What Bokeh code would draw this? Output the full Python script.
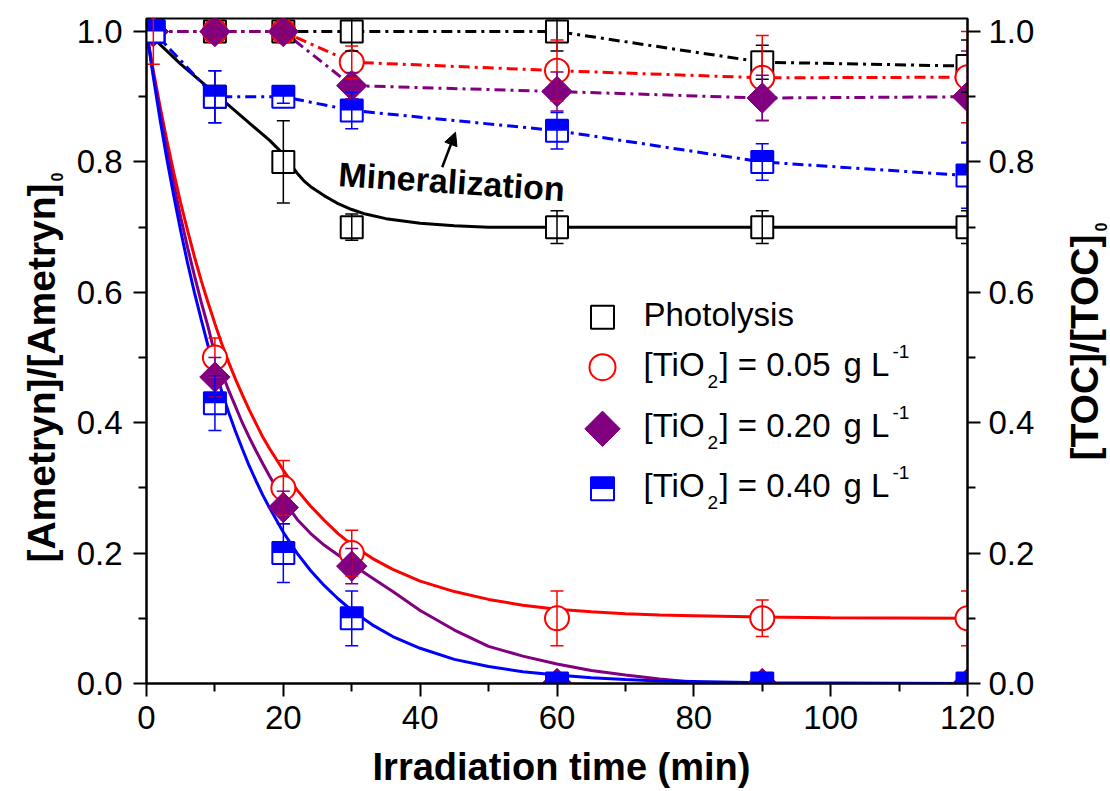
import numpy as np
from bokeh.plotting import figure
from bokeh.layouts import row, column
from bokeh.models import (Range1d, LinearAxis, FixedTicker, NumeralTickFormatter,
                          Label, Arrow, NormalHead)
from bokeh.embed import file_html
from bokeh.resources import INLINE

# ---------------- data ----------------
time = [1, 10, 20, 30, 60, 90, 120]

# [Ametryn]/[Ametryn]0  (markers + solid fits)
photo_am = [1.0, 0.90, 0.80, 0.70, 0.70, 0.70, 0.70]
photo_am_err = [0, 0.04, 0.063, 0.02, 0.025, 0.025, 0.025]
tio005_am = [1.0, 0.50, 0.30, 0.20, 0.10, 0.10, 0.10]
tio005_am_err = [0.05, 0.03, 0.042, 0.035, 0.042, 0.028, 0.042]
tio020_am = [1.0, 0.47, 0.27, 0.18, 0.0, 0.0, 0.0]
tio020_am_err = [0, 0.03, 0.025, 0.027, 0, 0, 0]
tio040_am = [1.0, 0.43, 0.20, 0.10, 0.0, 0.0, 0.0]
tio040_am_err = [0, 0.042, 0.045, 0.042, 0, 0, 0]

# [TOC]/[TOC]0  (markers + dash-dot lines)
photo_toc = [1.0, 1.0, 1.0, 1.0, 1.0, 0.953, 0.947]
photo_toc_err = [0, 0.01, 0.01, 0.03, 0.03, 0.026, 0.04]
tio005_toc = [1.0, 1.0, 1.0, 0.953, 0.94, 0.929, 0.93]
tio005_toc_err = [0, 0.01, 0.01, 0.025, 0.047, 0.065, 0.07]
tio020_toc = [1.0, 1.0, 1.0, 0.917, 0.908, 0.898, 0.90]
tio020_toc_err = [0, 0.01, 0.01, 0.02, 0.03, 0.035, 0.07]
tio040_toc = [1.0, 0.90, 0.90, 0.879, 0.848, 0.80, 0.779]
tio040_toc_err = [0, 0.04, 0.01, 0.028, 0.028, 0.028, 0.05]

# fitted curves
fit_t_photo = [0, 5, 10, 15, 18, 20, 21, 22, 23, 24, 25, 26, 27, 28, 30, 32, 35,
               40, 45, 50, 60, 90, 120]
fit_photo = [1.0, 0.95, 0.905, 0.86, 0.833, 0.812, 0.797, 0.783, 0.771, 0.762,
             0.755, 0.748, 0.742, 0.736, 0.727, 0.720, 0.713, 0.706, 0.702, 0.700,
             0.700, 0.700, 0.700]
fit_t = [0, 1, 2, 3, 4, 5, 6, 7, 8, 9, 10, 11, 12, 13, 14, 15, 16, 17, 18, 20,
         22, 24, 26, 28, 30, 33, 36, 40, 45, 50, 55, 60, 65, 70, 75, 80, 90, 100,
         120]
fit_005 = [1.0, 0.94, 0.884, 0.832, 0.783, 0.737, 0.695, 0.655, 0.618, 0.584,
           0.552, 0.521, 0.493, 0.467, 0.443, 0.420, 0.399, 0.378, 0.360, 0.327,
           0.297, 0.272, 0.250, 0.230, 0.213, 0.192, 0.175, 0.157, 0.141, 0.129,
           0.120, 0.114, 0.110, 0.107, 0.105, 0.104, 0.102, 0.101, 0.100]
fit_020 = [1.0, 0.935, 0.875, 0.818, 0.765, 0.715, 0.669, 0.626, 0.585, 0.547,
           0.505, 0.477, 0.450, 0.425, 0.400, 0.378, 0.357, 0.337, 0.318, 0.282,
           0.252, 0.230, 0.212, 0.197, 0.183, 0.162, 0.141, 0.112, 0.082, 0.057,
           0.042, 0.030, 0.020, 0.013, 0.007, 0.002, 0.0, 0.0, 0.0]
fit_040 = [1.0, 0.930, 0.864, 0.803, 0.747, 0.694, 0.645, 0.600, 0.558, 0.518,
           0.482, 0.448, 0.416, 0.387, 0.360, 0.334, 0.311, 0.289, 0.269, 0.232,
           0.200, 0.173, 0.150, 0.130, 0.112, 0.090, 0.072, 0.054, 0.037, 0.026,
           0.018, 0.013, 0.009, 0.006, 0.004, 0.003, 0.001, 0.0007, 0.0]

x_ticks = [0, 20, 40, 60, 80, 100, 120]
x_minor = [10, 30, 50, 70, 90, 110]
y_ticks = [0.0, 0.2, 0.4, 0.6, 0.8, 1.0]
y_minor = [0.1, 0.3, 0.5, 0.7, 0.9]

legend_labels = ["Photolysis", "0.05", "0.20", "0.40"]
x_title = "Irradiation time (min)"
left_title = "[Ametryn]/[Ametryn]"
right_title = "[TOC]/[TOC]"
title_sub = "0"
note = "Mineralization"

# ---------------- layout (canvas pixels) ----------------
FONT = "Liberation Sans"
FL, FR, FT, FB = 146, 967, 18, 683      # frame edges
X_MAX, Y_MAX = 120, 1.02
TOTAL_W, TOTAL_H = 1110, 791
PL_W = 72                                # left title strip width
MB_L = FL - PL_W
MB_R = 72
MB_B = 62
P_W = MB_L + (FR - FL) + MB_R
P_H = FT + (FB - FT) + MB_B
PB_H = TOTAL_H - P_H                     # bottom title strip height
PR_X0 = PL_W + P_W
PR_W = TOTAL_W - PR_X0                   # right title strip width
MID = 0.37                               # baseline -> middle offset (em)


def dx(px):
    return (px - FL) / (FR - FL) * X_MAX


def dy(py):
    return (FB - py) / (FB - FT) * Y_MAX


p = figure(frame_width=FR - FL, frame_height=FB - FT,
           x_range=Range1d(0, X_MAX), y_range=Range1d(0, Y_MAX),
           output_backend="svg", toolbar_location=None, title=None,
           min_border_left=MB_L, min_border_top=FT,
           min_border_right=MB_R, min_border_bottom=MB_B)
p.background_fill_color = "white"
p.border_fill_color = "white"
p.outline_line_color = "black"
p.outline_line_width = 2
p.xgrid.visible = False
p.ygrid.visible = False

xax = p.xaxis[0]
lax = p.yaxis[0]
rax = LinearAxis()
p.add_layout(rax, "right")

xax.ticker = FixedTicker(ticks=x_ticks, minor_ticks=x_minor)
for ax in [lax, rax]:
    ax.ticker = FixedTicker(ticks=y_ticks, minor_ticks=y_minor)
    ax.formatter = NumeralTickFormatter(format="0.0")
for ax in [xax, lax, rax]:
    ax.axis_line_width = 2
    ax.axis_line_color = "black"
    ax.major_tick_line_width = 2
    ax.minor_tick_line_width = 2
    ax.major_tick_line_color = "black"
    ax.minor_tick_line_color = "black"
    ax.major_tick_in = 0
    ax.major_tick_out = 13
    ax.minor_tick_in = 0
    ax.minor_tick_out = 8
    ax.major_label_text_font = FONT
    ax.major_label_text_font_size = "33px"
    ax.major_label_text_color = "black"
xax.major_label_standoff = 9
lax.major_label_standoff = 11
rax.major_label_standoff = 8

RED, PURPLE, BLUE, BLACK = "#FF0000", "#800080", "#0000FF", "#000000"
DASHDOT = "11 5 3 5"
HALF = dy(FB - 5.5)   # offset of the filled top half of the blue squares (5.5 px)

# solid fits
p.line(fit_t_photo, fit_photo, line_color=BLACK, line_width=3)
p.line(fit_t, fit_005, line_color=RED, line_width=3)
p.line(fit_t, fit_020, line_color=PURPLE, line_width=3)
p.line(fit_t, fit_040, line_color=BLUE, line_width=3)

# TOC dash-dot
p.line(time, photo_toc, line_color=BLACK, line_width=3, line_dash=DASHDOT)
p.line(time, tio005_toc, line_color=RED, line_width=3, line_dash=DASHDOT)
p.line(time, tio020_toc, line_color=PURPLE, line_width=3, line_dash=DASHDOT)
p.line(time, tio040_toc, line_color=BLUE, line_width=3, line_dash=DASHDOT)


def sq(x, y, size=22):
    p.scatter(x, y, marker="square", size=size, fill_color="white",
              line_color=BLACK, line_width=2)


def circ(x, y, size=24):
    p.scatter(x, y, marker="circle", size=size, fill_color="white",
              line_color=RED, line_width=2)


def dia(x, y, size=21.5):
    p.scatter(x, y, marker="square", angle=np.pi / 4, size=size,
              fill_color=PURPLE, line_color=PURPLE, line_width=1)


def half(x, y, size=22):
    p.scatter(x, y, marker="square", size=size, fill_color="white",
              line_color=BLUE, line_width=2)
    p.rect(x=x, y=[v + HALF for v in y], width=size, height=size / 2,
           width_units="screen", height_units="screen",
           fill_color=BLUE, line_color=None)


def errs(x, y, e, color):
    xs = [a for a, c in zip(x, e) if c > 0]
    lo = [b - c for b, c in zip(y, e) if c > 0]
    hi = [b + c for b, c in zip(y, e) if c > 0]
    p.segment(x0=xs, y0=lo, x1=xs, y1=hi, line_color=color, line_width=1.5)
    p.scatter(xs + xs, lo + hi, marker="dash", size=13, line_color=color,
              line_width=1.5)


sq(time, photo_am)
sq(time, photo_toc)
circ(time, tio005_am)
circ(time, tio005_toc)
dia(time, tio020_am)
dia(time, tio020_toc)
half(time, tio040_am)
half(time, tio040_toc)

errs(time, photo_am, photo_am_err, BLACK)
errs(time, photo_toc, photo_toc_err, BLACK)
errs(time, tio005_am, tio005_am_err, RED)
errs(time, tio005_toc, tio005_toc_err, RED)
errs(time, tio020_am, tio020_am_err, PURPLE)
errs(time, tio020_toc, tio020_toc_err, PURPLE)
errs(time, tio040_am, tio040_am_err, BLUE)
errs(time, tio040_toc, tio040_toc_err, BLUE)


def lab(fig, x, y, text, size, bold=False, angle=0.0, align="left"):
    fig.add_layout(Label(x=x, y=y, text=text, text_font=FONT,
                         text_font_size=f"{size}px",
                         text_font_style="bold" if bold else "normal",
                         angle=angle, text_align=align,
                         text_baseline="middle", text_color="black"))


def plab(px, base_py, text, size, **kw):
    # place by left edge / baseline in canvas pixels of the main figure
    lab(p, dx(px), dy(base_py - MID * size), text, size, **kw)


# legend
LX = dx(602)
sq([LX], [dy(316.7)], size=23)
circ([LX], [dy(366.7)], size=26)
dia([LX], [dy(428.3)], size=25)
half([LX], [dy(488.3)], size=23)
plab(643, 326, legend_labels[0], 33)
for lbl, base in zip(legend_labels[1:], [376, 437.5, 497.5]):
    plab(643, base, "[TiO", 33)
    plab(707, base + 12, "2", 19)
    plab(719, base, f"] = {lbl}", 33)
    plab(843, base, "g L", 33)
    plab(892, base - 18, "-1", 19)

# annotation
plab(338, 186, note, 34, bold=True, angle=-0.067)
p.add_layout(Arrow(x_start=dx(441.7), y_start=dy(166.7), x_end=dx(455), y_end=dy(131.7),
                   line_width=2.5, line_color=BLACK,
                   end=NormalHead(size=13, fill_color=BLACK, line_color=BLACK)))


# ---------------- strips holding the axis titles ----------------
def strip(w, h):
    f = figure(frame_width=w, frame_height=h, x_range=Range1d(0, w),
               y_range=Range1d(0, h), output_backend="svg",
               toolbar_location=None, title=None,
               x_axis_type=None, y_axis_type=None,
               min_border=0, min_border_left=0, min_border_right=0,
               min_border_top=0, min_border_bottom=0)
    f.outline_line_color = None
    f.background_fill_color = "white"
    f.border_fill_color = "white"
    return f


pl = strip(PL_W, TOTAL_H)
lab(pl, 55 - MID * 39, TOTAL_H - 372.5, left_title, 39, bold=True,
    angle=np.pi / 2, align="center")
lab(pl, 62 - MID * 16, TOTAL_H - 181, title_sub, 16, bold=True, angle=np.pi / 2)

pr = strip(PR_W, TOTAL_H)
lab(pr, 1098 - MID * 39 - PR_X0, TOTAL_H - 347, right_title, 39, bold=True,
    angle=np.pi / 2, align="center")
lab(pr, 1106 - MID * 16 - PR_X0, TOTAL_H - 231, title_sub, 16, bold=True,
    angle=np.pi / 2)

# the column aligns this strip's frame with the main frame (left edge at FL)
pb = strip(P_W, PB_H)
lab(pb, 561 - FL, TOTAL_H - (781 - MID * 38), x_title, 38, bold=True,
    align="center")

layout = row(pl, column(p, pb, spacing=0), pr, spacing=0)
open("out.html", "w").write(file_html(layout, INLINE))
